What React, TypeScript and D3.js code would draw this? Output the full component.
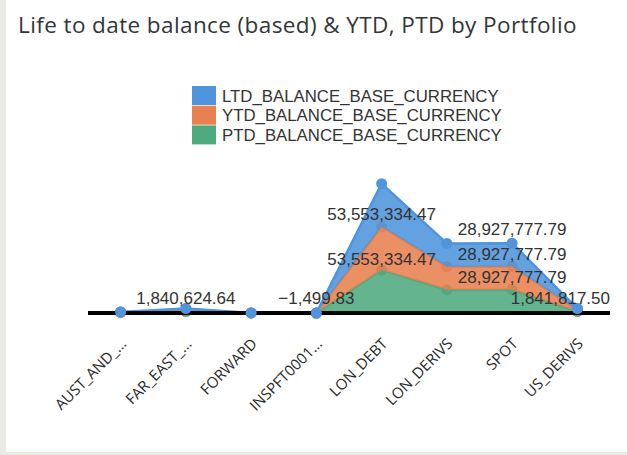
import React, { useEffect, useRef } from "react";
import * as d3 from "d3";

// portfolios, in the order of the x axis (names are cut the way the chart shows them)
const categories = [
  "AUST_AND_...",
  "FAR_EAST_...",
  "FORWARD",
  "INSPFT0001...",
  "LON_DEBT",
  "LON_DERIVS",
  "SPOT",
  "US_DERIVS",
];

const ltdValues = [420000, 1840624.64, 30000, -1499.83, 53553334.47, 28800000, 28927777.79, 1841817.5];
const ytdValues = [420000, 1840624.64, 30000, -1499.83, 53553334.47, 28800000, 28927777.79, 1841817.5];
const ptdValues = [420000, 1840624.64, 30000, -1499.83, 53553334.47, 28800000, 28927777.79, 1841817.5];

const seriesKeys = ["LTD_BALANCE_BASE_CURRENCY", "YTD_BALANCE_BASE_CURRENCY", "PTD_BALANCE_BASE_CURRENCY"];
const seriesColors = ["#4f94dc", "#e8804f", "#4faa7f"];

// which values get a data label (the rest are hidden by the chart because they overlap)
const labelCategories = ["FAR_EAST_...", "INSPFT0001...", "LON_DEBT", "LON_DEBT", "SPOT", "SPOT", "SPOT", "US_DERIVS"];
const labelSeries = [0, 0, 0, 1, 0, 1, 2, 0];
const labelOffsets = [-11, -15, 30, 32, -14, -13, -13, -11];

const W = 627;
const H = 455;

export default function App() {
  const ref = useRef<SVGSVGElement>(null);

  useEffect(() => {
    const svg = d3.select(ref.current);
    svg.selectAll("*").remove();

    const valuesBySeries = [ltdValues, ytdValues, ptdValues];
    const rows = categories.map((c, i) => {
      const r: any = { cat: c };
      seriesKeys.forEach((k, s) => (r[k] = valuesBySeries[s][i]));
      return r;
    });

    // bottom to top: PTD, YTD, LTD
    const stackOrder = [...seriesKeys].reverse();
    const stacked = d3.stack().keys(stackOrder)(rows);
    const layerOf = (key: string) => stacked.find(l => l.key === key)!;

    const plotLeft = 88;
    const plotRight = 610;
    const baseY = 313;

    const x = d3.scalePoint().domain(categories).range([plotLeft, plotRight]).padding(0.5);
    const y = d3.scaleLinear().domain([0, 200e6]).range([baseY, 152]);

    // card
    svg.append("rect").attr("width", W).attr("height", H).attr("fill", "#ebebe6");
    svg.append("rect").attr("x", 6).attr("y", 0).attr("width", W - 6).attr("height", 452).attr("fill", "#fff");

    svg.append("text")
      .attr("x", 18)
      .attr("y", 33)
      .attr("font-family", "'Open Sans', sans-serif")
      .attr("font-size", 22.5)
      .attr("letter-spacing", 0.4)
      .attr("fill", "#32363a")
      .text("Life to date balance (based) & YTD, PTD by Portfolio");

    // legend
    const legend = svg.append("g").attr("transform", "translate(192,86)");
    seriesKeys.forEach((k, i) => {
      legend.append("rect")
        .attr("x", 0)
        .attr("y", i * 19.7)
        .attr("width", 24)
        .attr("height", 19)
        .attr("fill", seriesColors[i]);
      legend.append("text")
        .attr("x", 30)
        .attr("y", i * 19.7 + 9.5)
        .attr("dy", "0.36em")
        .attr("font-family", "'Liberation Sans', Arial, sans-serif")
        .attr("font-size", 16.8)
        .attr("fill", "#333")
        .text(k);
    });

    const area = d3.area<any>()
      .x(d => x(d.data.cat)!)
      .y0(d => y(d[0]))
      .y1(d => y(d[1]));

    const line = d3.line<any>()
      .x(d => x(d.data.cat)!)
      .y(d => y(d[1]));

    // each layer drawn bottom first: area, edge line, points
    const plot = svg.append("g");
    stacked.forEach(layer => {
      const color = seriesColors[seriesKeys.indexOf(layer.key)];
      const g = plot.append("g");
      g.append("path")
        .datum(layer)
        .attr("fill", color)
        .attr("fill-opacity", 0.88)
        .attr("d", area);
      g.append("path")
        .datum(layer)
        .attr("fill", "none")
        .attr("stroke", color)
        .attr("stroke-width", 2.5)
        .attr("stroke-linejoin", "round")
        .attr("d", line);
      g.selectAll("circle")
        .data(layer)
        .join("circle")
          .attr("cx", d => x(d.data.cat)!)
          .attr("cy", d => y(d[1]))
          .attr("r", 5.5)
          .attr("fill", color);
    });

    // baseline
    svg.append("line")
      .attr("x1", plotLeft)
      .attr("x2", plotRight)
      .attr("y1", y(0))
      .attr("y2", y(0))
      .attr("stroke", "#000")
      .attr("stroke-width", 4);

    // top layer points sit over the baseline
    const topLayer = layerOf(seriesKeys[0]);
    svg.append("g")
      .selectAll("circle")
      .data(topLayer.filter(d => Math.abs(y(d[1]) - y(0)) < 6))
      .join("circle")
        .attr("cx", d => x(d.data.cat)!)
        .attr("cy", d => y(d[1]))
        .attr("r", 5.5)
        .attr("fill", seriesColors[0]);

    // data labels
    const fmt = d3.format(",.2f");
    const labels = svg.append("g")
      .attr("font-family", "'Liberation Sans', Arial, sans-serif")
      .attr("font-size", 17)
      .attr("fill", "#333");
    labelCategories.forEach((c, i) => {
      const key = seriesKeys[labelSeries[i]];
      const idx = categories.indexOf(c);
      const top = layerOf(key)[idx][1];
      const value = rows[idx][key];
      const t = labels.append("text")
        .attr("y", y(top) + labelOffsets[i])
        .attr("dy", "0.36em")
        .text(fmt(value));
      const cx = x(c)!;
      const w = (t.node() as SVGTextElement).getComputedTextLength();
      if (cx + w / 2 > plotRight) {
        t.attr("x", plotRight).attr("text-anchor", "end");
      } else {
        t.attr("x", cx).attr("text-anchor", "middle");
      }
    });

    // x axis labels
    svg.append("g")
      .selectAll("text")
      .data(categories)
      .join("text")
        .attr("transform", d => `translate(${x(d)! + 3},341) rotate(-45)`)
        .attr("text-anchor", "end")
        .attr("dy", "0.35em")
        .attr("font-family", "'Open Sans', sans-serif")
        .attr("font-size", 15)
        .attr("fill", "#2a2a2a")
        .text(d => d);
  }, []);

  return (
    <svg
      ref={ref}
      width={W}
      height={H}
      style={{ position: "absolute", left: 0, top: 0, display: "block" }}
    />
  );
}
